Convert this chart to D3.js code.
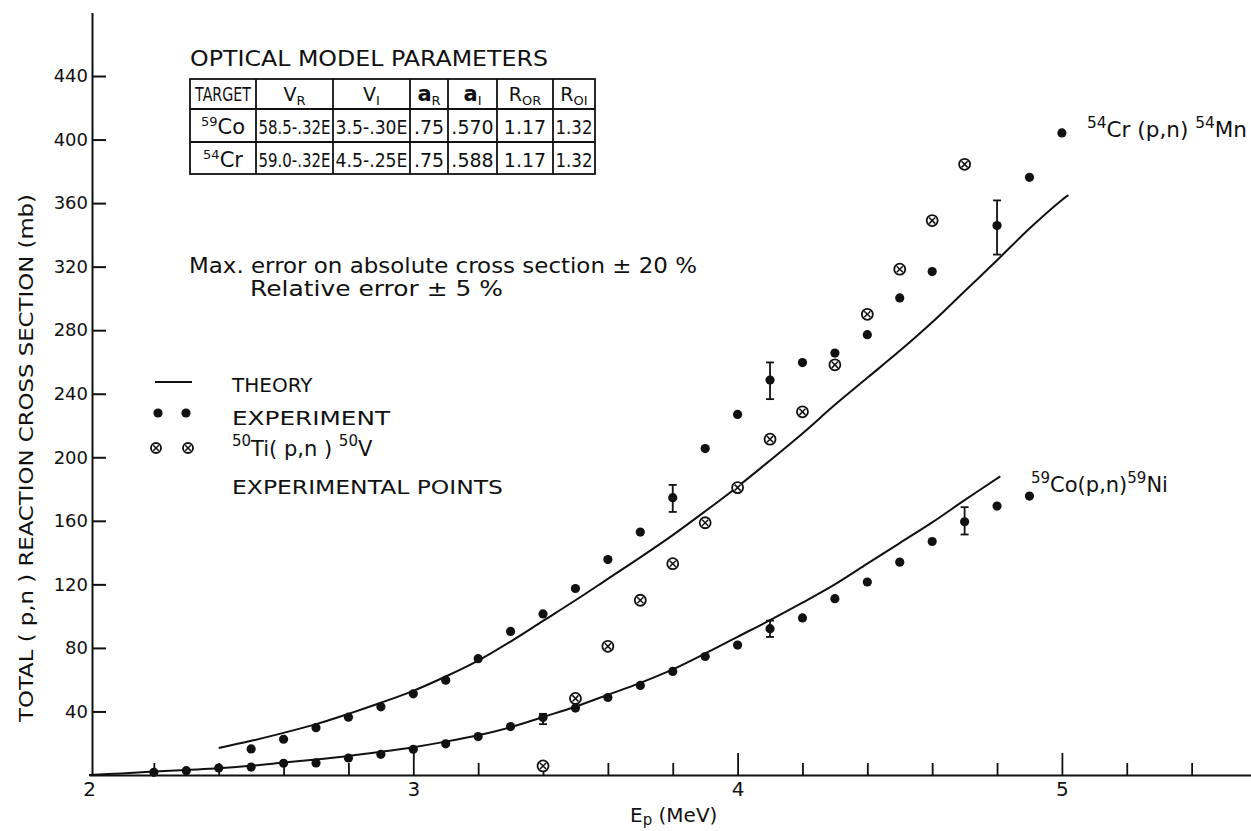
<!DOCTYPE html>
<html><head><meta charset="utf-8">
<script src="https://cdn.jsdelivr.net/npm/d3@7"></script>
<style>
body{margin:0;background:#fff}
svg{display:block}
text{font-family:"DejaVu Sans",sans-serif;fill:#111}
</style>
</head><body>
<svg id="c" width="1251" height="831"></svg>
<script>
// ---------------- DATA ----------------
const crExpE=[2.5,2.6,2.7,2.8,2.9,3.0,3.1,3.2,3.3,3.4,3.5,3.6,3.7,3.8,3.9,4.0,4.1,4.2,4.3,4.4,4.5,4.6,4.8,4.9,5.0];
const crExpV=[16.4,22.5,29.8,36.4,42.9,51.1,59.7,73.2,90.4,101.4,117.4,135.6,152.9,174.6,205.5,227.0,248.6,259.6,265.6,277.2,300.3,316.9,345.9,376.2,404.2];
const crErrE=[3.8,4.1,4.8];
const crErrLo=[165.6,236.6,327.6];
const crErrHi=[182.6,259.7,361.7];

const coExpE=[2.2,2.3,2.4,2.5,2.6,2.7,2.8,2.9,3.0,3.1,3.2,3.3,3.4,3.5,3.6,3.7,3.8,3.9,4.0,4.1,4.2,4.3,4.4,4.5,4.6,4.7,4.8,4.9];
const coExpV=[1.7,2.7,4.4,5.0,7.4,7.6,10.7,13.0,16.2,19.6,24.2,30.5,36.2,42.1,48.8,56.4,65.2,74.6,81.8,92.1,98.9,111.0,121.5,134.0,147.0,159.4,169.3,175.6];
const coErrE=[3.4,4.1,4.7];
const coErrLo=[32.0,86.9,151.4];
const coErrHi=[38.5,97.2,168.6];

const tiE=[3.4,3.5,3.6,3.7,3.8,3.9,4.0,4.1,4.2,4.3,4.4,4.5,4.6,4.7];
const tiV=[5.7,48.2,81.0,110.0,133.0,158.8,180.9,211.4,228.6,258.2,290.0,318.4,349.0,384.4];

const crTheoryE=[2.4,2.5,2.6,2.7,2.8,2.9,3.0,3.1,3.2,3.3,3.4,3.5,3.6,3.7,3.8,3.9,4.0,4.1,4.2,4.3,4.4,4.5,4.6,4.7,4.8,4.9,5.0,5.02];
const crTheoryV=[17,21.5,26.5,32,38.5,45.5,53,62,72,84,97,110,123.5,137,151,166,181.5,198,215,233,250,267,285,304.5,324,344,362,365];

const coTheoryE=[2.0,2.1,2.2,2.3,2.4,2.5,2.6,2.7,2.8,2.9,3.0,3.1,3.2,3.3,3.4,3.5,3.6,3.7,3.8,3.9,4.0,4.1,4.2,4.3,4.4,4.5,4.6,4.7,4.81];
const coTheoryV=[0,1,2.2,3.2,4.2,5.8,7.8,9.8,12,14.6,17.5,21,25,30,36.5,43,50.5,58,66.5,76.5,87,97.5,108.5,120,133,146,159,173,188];

const yTicks=[40,80,120,160,200,240,280,320,360,400,440];
const xMajor=[3,4,5];
const xLabels=[2,3,4,5];
const xMinor=[2.2,2.4,2.6,2.8,3.2,3.4,3.6,3.8,4.2,4.4,4.6,4.8,5.2,5.4];

const tableTitle="OPTICAL MODEL PARAMETERS";
const tableHeader=[["TARGET",""],["V","R"],["V","I"],["a","R"],["a","I"],["R","OR"],["R","OI"]];
const tableCo=["59|Co","58.5-.32E","3.5-.30E",".75",".570","1.17","1.32"];
const tableCr=["54|Cr","59.0-.32E","4.5-.25E",".75",".588","1.17","1.32"];

// ---------------- CHART ----------------
const svg=d3.select("#c");
const ink="#111";
const x=d3.scaleLinear().domain([2,5.6]).range([89,89+3.6*324.3]);
const y=d3.scaleLinear().domain([0,480]).range([775,775-480*1.5886]);

// Y axis
const yAxis=d3.axisLeft(y).tickValues(yTicks).tickSizeInner(-14).tickSizeOuter(0).tickPadding(4).tickFormat(d3.format("d"));
const gy=svg.append("g").attr("transform","translate(92,0)").call(yAxis);
gy.select(".domain").attr("stroke",ink).attr("stroke-width",2);
gy.selectAll(".tick line").attr("stroke",ink).attr("stroke-width",2);
gy.selectAll(".tick text").attr("font-size",18).attr("font-family","DejaVu Sans").attr("fill",ink);

// X axis: minor ticks
const xAxisMinor=d3.axisBottom(x).tickValues(xMinor).tickSizeInner(-12).tickSizeOuter(0).tickFormat("");
const gxm=svg.append("g").attr("transform","translate(0,775)").call(xAxisMinor);
gxm.select(".domain").attr("stroke",ink).attr("stroke-width",2);
gxm.selectAll(".tick line").attr("stroke",ink).attr("stroke-width",1.8);
// major ticks
const xAxisMajor=d3.axisBottom(x).tickValues(xMajor).tickSizeInner(-22).tickSizeOuter(0).tickFormat("");
const gxM=svg.append("g").attr("transform","translate(0,775)").call(xAxisMajor);
gxM.select(".domain").remove();
gxM.selectAll(".tick line").attr("stroke",ink).attr("stroke-width",1.8);
// labels
const xAxisLab=d3.axisBottom(x).tickValues(xLabels).tickSize(0).tickPadding(7).tickFormat(d3.format("d"));
const gxl=svg.append("g").attr("transform","translate(0,775)").call(xAxisLab);
gxl.select(".domain").remove();
gxl.selectAll(".tick text").attr("font-size",20).attr("font-family","DejaVu Sans").attr("fill",ink);

// axis titles
svg.append("text").attr("x",630).attr("y",822).attr("font-size",20)
  .html('E<tspan font-size="15" dy="3">p</tspan><tspan dy="-3"> (MeV)</tspan>');
svg.append("text").attr("transform","translate(33,458) rotate(-90)").attr("text-anchor","middle")
  .attr("font-size",20).attr("textLength",528).attr("lengthAdjust","spacingAndGlyphs")
  .text("TOTAL ( p,n ) REACTION CROSS SECTION (mb)");

// theory curves
const line=d3.line().x(d=>x(d[0])).y(d=>y(d[1])).curve(d3.curveCatmullRom.alpha(0.5));
svg.append("path").attr("d",line(d3.zip(crTheoryE,crTheoryV))).attr("fill","none").attr("stroke",ink).attr("stroke-width",2);
svg.append("path").attr("d",line(d3.zip(coTheoryE,coTheoryV))).attr("fill","none").attr("stroke",ink).attr("stroke-width",2);

// error bars
function errBars(E,lo,hi){
  const g=svg.append("g").attr("stroke",ink).attr("stroke-width",1.8);
  d3.zip(E,lo,hi).forEach(([e,l,h])=>{
    g.append("line").attr("x1",x(e)).attr("x2",x(e)).attr("y1",y(l)).attr("y2",y(h));
    g.append("line").attr("x1",x(e)-4).attr("x2",x(e)+4).attr("y1",y(l)).attr("y2",y(l));
    g.append("line").attr("x1",x(e)-4).attr("x2",x(e)+4).attr("y1",y(h)).attr("y2",y(h));
  });
}
errBars(crErrE,crErrLo,crErrHi);
errBars(coErrE,coErrLo,coErrHi);

// experimental dots
function dots(E,V){
  svg.append("g").selectAll("circle").data(d3.zip(E,V)).join("circle")
    .attr("cx",d=>x(d[0])).attr("cy",d=>y(d[1])).attr("r",4.6).attr("fill",ink);
}
dots(crExpE,crExpV);
dots(coExpE,coExpV);

// Ti crossed circles
function crossCircle(g,cx,cy,r){
  const s=g.append("g").attr("transform",`translate(${cx},${cy})`);
  s.append("circle").attr("r",r).attr("fill","#fff").attr("stroke",ink).attr("stroke-width",1.8);
  const k=r*0.55;
  s.append("line").attr("x1",-k).attr("y1",-k).attr("x2",k).attr("y2",k).attr("stroke",ink).attr("stroke-width",1.5);
  s.append("line").attr("x1",-k).attr("y1",k).attr("x2",k).attr("y2",-k).attr("stroke",ink).attr("stroke-width",1.5);
}
const gti=svg.append("g");
d3.zip(tiE,tiV).forEach(([e,v])=>crossCircle(gti,x(e),y(v),5.5));

// reaction labels
svg.append("text").attr("x",1087).attr("y",137).attr("font-size",21).attr("textLength",160).attr("lengthAdjust","spacingAndGlyphs")
  .html('<tspan font-size="15" dy="-9">54</tspan><tspan dy="9">Cr (p,n) </tspan><tspan font-size="15" dy="-9">54</tspan><tspan dy="9">Mn</tspan>');
svg.append("text").attr("x",1031).attr("y",492).attr("font-size",21)
  .html('<tspan font-size="15" dy="-9">59</tspan><tspan dy="9">Co(p,n)</tspan><tspan font-size="15" dy="-9">59</tspan><tspan dy="9">Ni</tspan>');

// error notes
svg.append("text").attr("x",189).attr("y",273).attr("font-size",21).attr("textLength",508).attr("lengthAdjust","spacingAndGlyphs")
  .text("Max. error on absolute cross section \u00b1 20 %");
svg.append("text").attr("x",250).attr("y",296).attr("font-size",21).attr("textLength",253).attr("lengthAdjust","spacingAndGlyphs")
  .text("Relative error \u00b1 5 %");

// legend
svg.append("line").attr("x1",155).attr("x2",192).attr("y1",382).attr("y2",382).attr("stroke",ink).attr("stroke-width",2);
svg.append("text").attr("x",232).attr("y",392).attr("font-size",20).text("THEORY");
[158,186].forEach(cx=>svg.append("circle").attr("cx",cx).attr("cy",413).attr("r",4.6).attr("fill",ink));
svg.append("text").attr("x",232).attr("y",425).attr("font-size",20).attr("textLength",158).attr("lengthAdjust","spacingAndGlyphs").text("EXPERIMENT");
[156,188].forEach(cx=>crossCircle(svg,cx,448,5));
svg.append("text").attr("x",232).attr("y",456).attr("font-size",21)
  .html('<tspan font-size="15" dy="-10">50</tspan><tspan dy="10">Ti( p,n ) </tspan><tspan font-size="15" dy="-10">50</tspan><tspan dy="10">V</tspan>');
svg.append("text").attr("x",232).attr("y",494).attr("font-size",20).attr("textLength",271).attr("lengthAdjust","spacingAndGlyphs").text("EXPERIMENTAL POINTS");

// parameter table
svg.append("text").attr("x",190).attr("y",66).attr("font-size",22).attr("textLength",358).attr("lengthAdjust","spacingAndGlyphs").text(tableTitle);
const colX=[190,256,333,410,448,497,553,595];
const rowY=[79,109,142,174];
const gt=svg.append("g").attr("stroke",ink).attr("stroke-width",1.8);
gt.append("rect").attr("x",colX[0]).attr("y",rowY[0]).attr("width",colX[7]-colX[0]).attr("height",rowY[3]-rowY[0]).attr("fill","none");
colX.slice(1,7).forEach(cx=>gt.append("line").attr("x1",cx).attr("x2",cx).attr("y1",rowY[0]).attr("y2",rowY[3]));
rowY.slice(1,3).forEach(ry=>gt.append("line").attr("x1",colX[0]).attr("x2",colX[7]).attr("y1",ry).attr("y2",ry));
const mid=i=>(colX[i]+colX[i+1])/2;
// cell helper: text in a group that is squeezed horizontally to fit the cell
function cell(i,base,size){
  const g=svg.append("g").attr("transform",`translate(${mid(i)},${base})`);
  const t=g.append("text").attr("x",0).attr("y",0).attr("text-anchor","middle").attr("font-size",size);
  return {g,t,fit:(maxW)=>{const w=t.node().getBBox().width; if(w>maxW) t.attr("transform",`scale(${maxW/w},1)`);}};
}
tableHeader.forEach(([m,s],i)=>{
  const c=cell(i,101,i===0?19:19);
  if(i===0){c.t.text(m);c.fit(57);return;}
  const bold=(m==="a");
  c.t.append("tspan").attr("font-weight",bold?"bold":"normal").attr("font-size",bold?21:19).text(m);
  c.t.append("tspan").attr("font-size",13).attr("dy",4).text(s);
  c.fit(colX[i+1]-colX[i]-6);
});
function tableRow(vals,base){
  vals.forEach((v,i)=>{
    const c=cell(i,base,19);
    if(i===0){
      const [sup,el]=v.split("|");
      c.t.append("tspan").attr("font-size",13).attr("dy",-8).text(sup);
      c.t.append("tspan").attr("font-size",21).attr("dy",8).text(el);
      return;
    }
    c.t.text(v);
    c.fit(colX[i+1]-colX[i]-5);
  });
}
tableRow(tableCo,134);
tableRow(tableCr,167);
</script>
</body></html>
